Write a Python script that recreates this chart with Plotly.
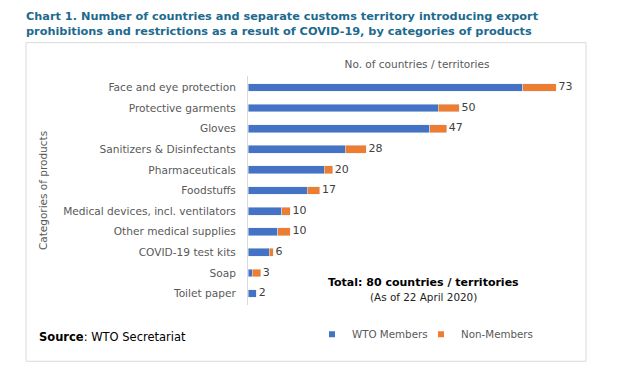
import plotly.graph_objects as go

categories = ["Face and eye protection", "Protective garments", "Gloves",
              "Sanitizers & Disinfectants", "Pharmaceuticals", "Foodstuffs",
              "Medical devices, incl. ventilators", "Other medical supplies",
              "COVID-19 test kits", "Soap", "Toilet paper"]
wto_members = [65, 45, 43, 23, 18, 14, 8, 7, 5, 1, 2]
non_members = [8, 5, 4, 5, 2, 3, 2, 3, 1, 2, 0]
totals = [w + n for w, n in zip(wto_members, non_members)]
series_names = ["WTO Members", "Non-Members"]
series_colors = ["#4472C4", "#ED7D31"]

# page body has an 8px margin; positions below are given in screen pixels
OFF = 8
W, H = 632, 371
L, R, T, B = 240, 54, 67.5, 73.5
PW, PH = W - L - R, H - T - B

def px2x(sx):
    return (sx - OFF - L) / PW

def px2y(sy):
    return (H - B - (sy - OFF)) / PH

FONT = "DejaVu Sans, Verdana, sans-serif"
GRAY = "#595959"

fig = go.Figure()
for name, vals, col in zip(series_names, [wto_members, non_members], series_colors):
    fig.add_trace(go.Bar(y=categories, x=vals, orientation="h", name=name,
                         marker=dict(color=col), showlegend=False))
# legend entries with small square keys
for name, col, lg in zip(series_names, series_colors, ["legend", "legend2"]):
    fig.add_trace(go.Scatter(x=[None], y=[None], mode="markers", name=name, legend=lg,
                             marker=dict(symbol="square", size=6, color=col)))
fig.add_trace(go.Scatter(y=categories, x=totals, mode="text", text=["\u2009" + str(t) for t in totals],
                         textposition="middle right", showlegend=False, hoverinfo="skip",
                         textfont=dict(family=FONT, size=11, color="#404040")))

legend_common = dict(orientation="h", xanchor="left", yanchor="middle",
                     font=dict(size=10.3, color=GRAY), itemwidth=30,
                     bgcolor="rgba(0,0,0,0)")

fig.update_layout(
    width=W, height=H, margin=dict(l=L, r=R, t=T, b=B, autoexpand=False),
    paper_bgcolor="white", plot_bgcolor="white",
    barmode="stack", bargap=0.62,
    font=dict(family=FONT, size=10, color=GRAY),
    xaxis=dict(range=[0, 80], showgrid=False, zeroline=False, showticklabels=False,
               automargin=False, side="top",
               title=dict(text="No. of countries / territories",
                          font=dict(size=10.5, color=GRAY), standoff=4)),
    yaxis=dict(autorange="reversed", showline=True, linecolor="#D9D9D9", linewidth=1,
               automargin=False, showgrid=False,
               ticks="", ticklabelstandoff=9, tickfont=dict(size=10.6, color=GRAY),
               title=dict(text="Categories of products", font=dict(size=10.5, color=GRAY),
                          standoff=13)),
    legend=dict(x=px2x(312), y=px2y(335), **legend_common),
    legend2=dict(x=px2x(421), y=px2y(335), **legend_common),
    showlegend=True,
)

fig.add_shape(type="rect", xref="paper", yref="paper",
              x0=px2x(26), x1=px2x(586), y0=px2y(362), y1=px2y(42),
              line=dict(color="#D9D9D9", width=1), layer="below")

fig.add_annotation(xref="paper", yref="paper", x=px2x(24), y=px2y(7.5),
                   xanchor="left", yanchor="top", align="left", showarrow=False,
                   text="<b>Chart 1. Number of countries and separate customs territory introducing export<br>"
                        "prohibitions and restrictions as a result of COVID-19, by categories of products</b>",
                   font=dict(family=FONT, size=11.3, color="#1C6A8E"))
fig.add_annotation(xref="paper", yref="paper", x=px2x(423), y=px2y(283),
                   xanchor="center", yanchor="middle", showarrow=False,
                   text="<b>Total: 80 countries / territories</b>",
                   font=dict(family=FONT, size=11, color="#000000"))
fig.add_annotation(xref="paper", yref="paper", x=px2x(423), y=px2y(297),
                   xanchor="center", yanchor="middle", showarrow=False,
                   text="(As of 22 April 2020)",
                   font=dict(family=FONT, size=10.4, color="#222222"))
fig.add_annotation(xref="paper", yref="paper", x=px2x(37), y=px2y(338),
                   xanchor="left", yanchor="middle", showarrow=False,
                   text="<b>Source</b>: WTO Secretariat",
                   font=dict(family=FONT, size=11.5, color="#000000"))

fig.write_html("out.html")
